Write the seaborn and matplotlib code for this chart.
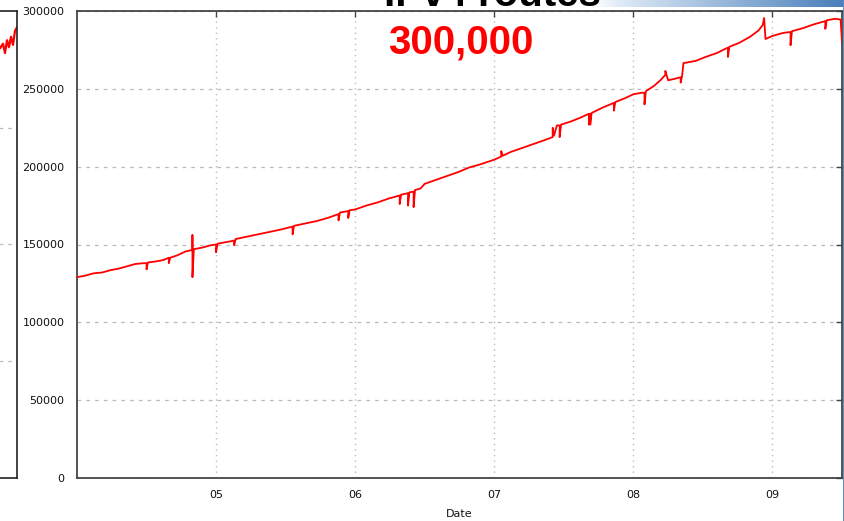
import matplotlib
matplotlib.use("Agg")
import numpy as np
import pandas as pd
import seaborn as sns
import matplotlib.pyplot as plt
from matplotlib.colors import LinearSegmentedColormap

# 1. DATA (decimal year -> number of routes)
route_year = [
    2004.00, 2004.06, 2004.12, 2004.18, 2004.24, 2004.30, 2004.36, 2004.42, 2004.48,
    2004.50, 2004.50, 2004.51, 2004.56, 2004.62, 2004.66, 2004.66, 2004.67, 2004.72,
    2004.78, 2004.83, 2004.83, 2004.83, 2004.84, 2004.90, 2004.96, 2005.00, 2005.00,
    2005.01, 2005.07, 2005.13, 2005.13, 2005.14, 2005.22, 2005.30, 2005.38, 2005.46,
    2005.55, 2005.55, 2005.56, 2005.64, 2005.72, 2005.80, 2005.88, 2005.88, 2005.89,
    2005.95, 2005.95, 2005.96, 2006.00, 2006.08, 2006.16, 2006.24, 2006.32, 2006.32,
    2006.33, 2006.38, 2006.38, 2006.39, 2006.42, 2006.42, 2006.43, 2006.47, 2006.50,
    2006.58, 2006.66, 2006.74, 2006.82, 2006.90, 2007.00, 2007.05, 2007.05, 2007.06,
    2007.12, 2007.20, 2007.28, 2007.36, 2007.42, 2007.42, 2007.43, 2007.45, 2007.47,
    2007.47, 2007.48, 2007.55, 2007.62, 2007.68, 2007.68, 2007.69, 2007.69, 2007.70,
    2007.78, 2007.86, 2007.86, 2007.87, 2007.94, 2008.00, 2008.06, 2008.08, 2008.08,
    2008.09, 2008.15, 2008.20, 2008.23, 2008.23, 2008.25, 2008.30, 2008.34, 2008.34,
    2008.35, 2008.36, 2008.45, 2008.52, 2008.60, 2008.68, 2008.68, 2008.69, 2008.76,
    2008.84, 2008.90, 2008.93, 2008.94, 2008.95, 2009.00, 2009.08, 2009.13, 2009.13,
    2009.14, 2009.22, 2009.30, 2009.38, 2009.38, 2009.39, 2009.45, 2009.49, 2009.50,
]
route_count = [
    129000, 130000, 131500, 132000, 133500, 134500, 136000, 137500, 138000,
    138000, 134000, 138500, 139000, 140000, 141500, 138000, 141500, 143000,
    145500, 146500, 156000, 129000, 147000, 148000, 149500, 150000, 145000,
    150500, 151500, 152500, 149500, 153500, 155000, 156500, 158000, 159500,
    161500, 156500, 162000, 163500, 165000, 167000, 169500, 165500, 170500,
    171500, 167000, 172000, 172500, 175000, 177000, 179500, 181500, 176000,
    182000, 183000, 175000, 183500, 184000, 174000, 185000, 186000, 189000,
    191500, 194000, 196500, 199500, 201500, 204500, 206500, 210000, 207000,
    209500, 212000, 214500, 217000, 219000, 225000, 220000, 226500, 226500,
    219000, 227000, 229000, 231500, 234000, 227000, 234000, 227000, 234500,
    238000, 241000, 236000, 241500, 244000, 246500, 247500, 247500, 240000,
    248500, 252000, 256000, 259000, 261500, 255500, 256500, 257500, 254000,
    258000, 266500, 268000, 270500, 273000, 276500, 270500, 277000, 279500,
    283500, 287500, 291000, 295500, 282000, 284000, 286000, 286500, 278000,
    287000, 289000, 291500, 293500, 288500, 294000, 295000, 294500, 280000,
]

tick_years  = [2005, 2006, 2007, 2008, 2009]
tick_labels = ["05", "06", "07", "08", "09"]
y_ticks     = [0, 50000, 100000, 150000, 200000, 250000, 300000]

# neighbouring chart, only its right edge shows
left_x   = [0.915, 0.93, 0.94, 0.95, 0.96, 0.97, 0.98, 0.99, 1.0]
left_val = [368000, 372000, 364000, 375000, 369000, 378000, 371000, 383000, 386000]

# 2. STYLE
sns.set_theme(style="white")
plt.rcParams['font.family'] = ['DejaVu Sans']

W, H = 845, 521
fig = plt.figure(figsize=(W / 100, H / 100), dpi=100)

SPINE = '#444444'
GRID  = '#bbbbbb'

# background band at the top right (slide header)
band = fig.add_axes([0.0, 1 - 7 / H, 1.0, 7 / H], zorder=0)
cmap = LinearSegmentedColormap.from_list(
    'band', [(0, '#ffffff'), (0.70, '#ffffff'), (0.74, '#dbe8f5'), (1, '#4a7ebb')])
band.imshow(np.linspace(0, 1, 256)[None, :], aspect='auto', cmap=cmap,
            extent=[0, 1, 0, 1])
band.set_axis_off()

# right border strip
strip = fig.add_axes([843 / W, 0.0, 2 / W, 1.0], zorder=0)
strip.set_facecolor('#5b8cc8')
strip.set_xticks([]); strip.set_yticks([])
for s in strip.spines.values():
    s.set_visible(False)

# 3. MAIN CHART
ax = fig.add_axes([77 / W, 43 / H, 765 / W, 467 / H], zorder=2)
df = pd.DataFrame({'year': route_year, 'routes': route_count})
sns.lineplot(data=df, x='year', y='routes', ax=ax, color='red', lw=1.3,
             estimator=None, sort=False, zorder=3)

ax.set_xlim(2004.0, 2009.5)
ax.set_ylim(0, 300000)
ax.set_xticks(tick_years)
ax.set_xticklabels(tick_labels)
ax.set_yticks(y_ticks)
ax.set_yticklabels([str(v) for v in y_ticks])
ax.tick_params(axis='both', direction='in', length=4, width=1, color=SPINE,
               top=True, right=True, labelsize=8, labelcolor='#111111')
ax.tick_params(axis='y', pad=9)
ax.tick_params(axis='x', pad=9)
ax.xaxis.grid(True, ls=(0, (1, 3)), color=GRID, lw=1)
ax.yaxis.grid(True, ls=(0, (3, 4)), color=GRID, lw=0.9)
for s in ax.spines.values():
    s.set_color(SPINE)
    s.set_linewidth(1.3)
ax.set_xlabel('Date', fontsize=8, color='#111111')
ax.xaxis.set_label_coords(0.5, -31 / 467)
ax.set_ylabel('')

# 4. LEFT NEIGHBOUR (cut off)
axl = fig.add_axes([(17 - 200) / W, 43 / H, 200 / W, 467 / H], zorder=1)
sns.lineplot(x=left_x, y=left_val, ax=axl, color='red', lw=1.6)
axl.set_xlim(0, 1)
axl.set_ylim(0, 400000)
axl.set_yticks([100000, 200000, 300000])
axl.set_xticks([])
axl.tick_params(axis='y', direction='in', length=4, color='#222222', labelleft=False)
axl.yaxis.grid(True, ls=(0, (3, 4)), color=GRID, lw=0.9)
for s in axl.spines.values():
    s.set_color('#222222')
    s.set_linewidth(1.2)
axl.patch.set_alpha(0)

# annotations
fig.text(461 / W, 1 - 53 / H, '300,000', fontsize=29, weight='bold',
         color='#ff0000', ha='center', va='baseline', family='Liberation Sans', zorder=5)
# header title, mostly cut off by the figure edge as in the slide
fig.text(492 / W, 1 - 5.5 / H, 'IPv4 routes', fontsize=29, weight='bold',
         color='black', ha='center', va='baseline', family='Liberation Sans', zorder=5)

fig.savefig('out.png', dpi=100)
